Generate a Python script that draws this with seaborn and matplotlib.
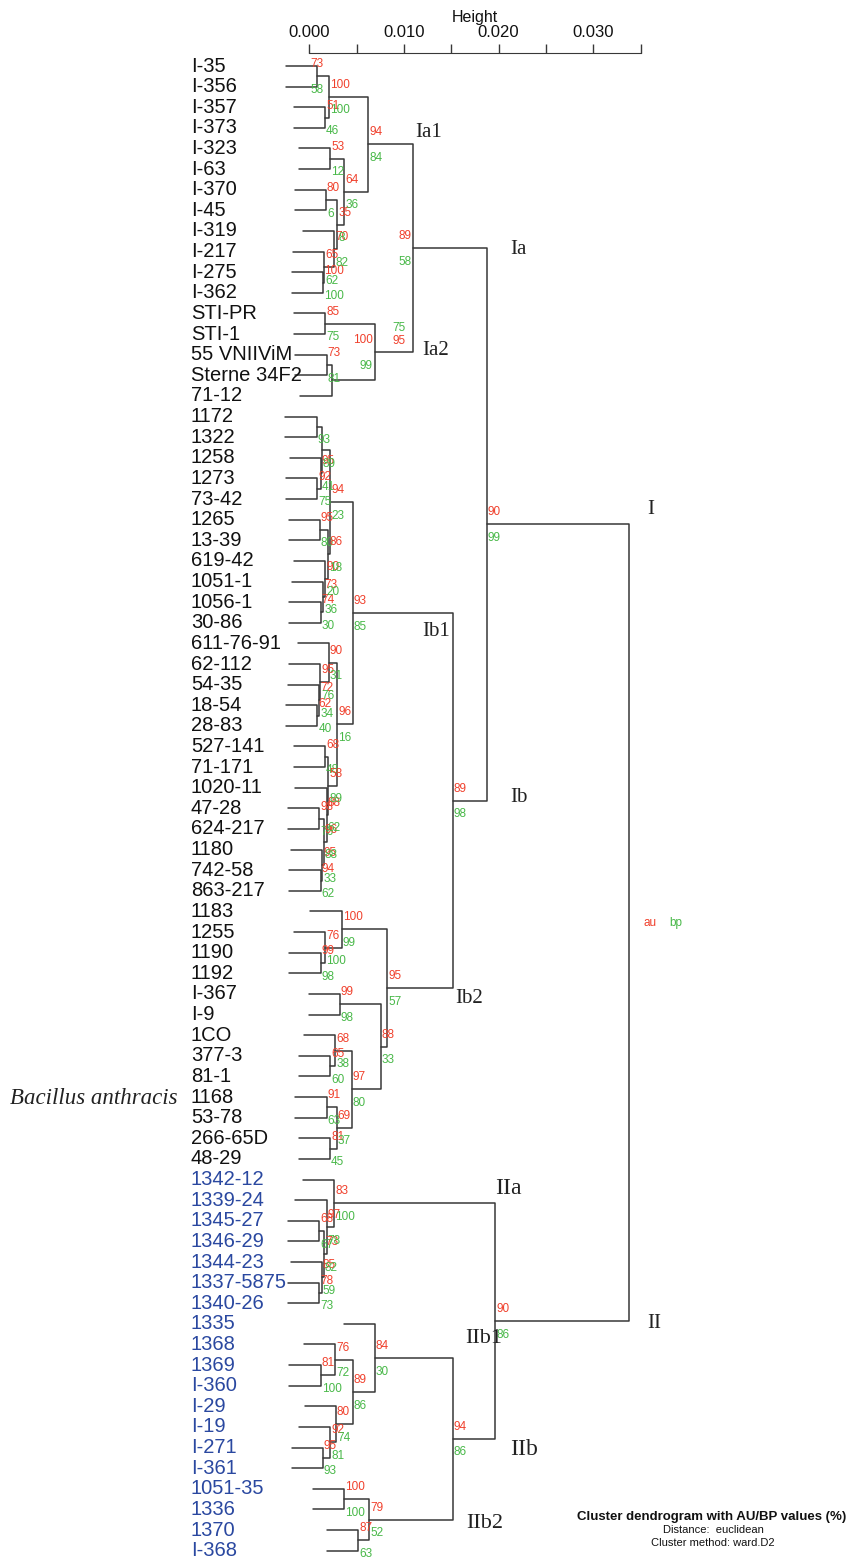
import numpy as np
import pandas as pd
import matplotlib
matplotlib.use('Agg')
import matplotlib.pyplot as plt
import seaborn as sns

# ---------------------------------------------------------------
# data: leaves (top to bottom), merges (R hclust style:
# negative = leaf number, positive = earlier merge step)
# ---------------------------------------------------------------
leaf_labels = ["I-35", "I-356", "I-357", "I-373", "I-323", "I-63", "I-370", "I-45",
               "I-319", "I-217", "I-275", "I-362", "STI-PR", "STI-1", "55 VNIIViM",
               "Sterne 34F2", "71-12", "1172", "1322", "1258", "1273", "73-42", "1265",
               "13-39", "619-42", "1051-1", "1056-1", "30-86", "611-76-91", "62-112",
               "54-35", "18-54", "28-83", "527-141", "71-171", "1020-11", "47-28",
               "624-217", "1180", "742-58", "863-217", "1183", "1255", "1190", "1192",
               "I-367", "I-9", "1CO", "377-3", "81-1", "1168", "53-78", "266-65D",
               "48-29", "1342-12", "1339-24", "1345-27", "1346-29", "1344-23",
               "1337-5875", "1340-26", "1335", "1368", "1369", "I-360", "I-29", "I-19",
               "I-271", "I-361", "1051-35", "1336", "1370", "I-368"]

merge_a = [-1, -3, 1, -5, -7, -11, -10, -9, 5, 4, 3,
           -13, -15, 13, 12, 11,
           -18, -21, -20, 17, -23, -27, -26, -25, 21, 20,
           -32, -31, -30, -29, -34, -37, -40, -39, 32, -36, 31, 30, 26,
           -44, -43, -42, -46, -49, -48, -51, -53, 46, 45, 43, 42, 39, 16,
           -57, -60, -59, 54, -56, -55,
           -64, -63, -68, -67, -66, 61, -62, -70, -72, 67, 66, 59, 53]
merge_b = [-2, -4, 2, -6, -8, -12, 6, 7, 8, 9, 10,
           -14, -16, -17, 14, 15,
           -19, -22, 18, 19, -24, -28, 22, 23, 24, 25,
           -33, 27, 28, 29, -35, -38, -41, 33, 34, 35, 36, 37, 38,
           -45, 40, 41, -47, -50, 44, -52, -54, 47, 48, 49, 50, 51, 52,
           -58, -61, 55, 56, 57, 58,
           -65, 60, -69, 62, 63, 64, 65, -71, -73, 68, 69, 70, 71]
heights = [0.00085, 0.00166, 0.00211, 0.00219, 0.00176, 0.00142, 0.00158, 0.00261,
           0.00293, 0.00367, 0.00623,
           0.00166, 0.00184, 0.00237, 0.00694, 0.01099,
           0.00078, 0.00085, 0.00122, 0.00131, 0.00113, 0.00120, 0.00148, 0.00166,
           0.00198, 0.00219,
           0.00085, 0.00106, 0.00118, 0.00208, 0.00166, 0.00106, 0.00120, 0.00139,
           0.00155, 0.00182, 0.00201, 0.00296, 0.00458,
           0.00120, 0.00166, 0.00342, 0.00324, 0.00219, 0.00272, 0.00184, 0.00219,
           0.00289, 0.00448, 0.00754, 0.00824, 0.01518, 0.01877,
           0.00106, 0.00106, 0.00134, 0.00155, 0.00184, 0.00261,
           0.00120, 0.00272, 0.00142, 0.00219, 0.00282, 0.00458, 0.00694, 0.00367,
           0.00518, 0.00634, 0.01518, 0.01962, 0.03377]
au = [73, 51, 100, 53, 80, 100, 65, 70, 35, 64, 94,
      85, 73, None, 100, 89,
      None, 92, 95, None, 95, 74, 73, 90, 86, 94,
      62, 72, 95, 90, 68, 98, 94, 95, 96, 88, 58, 96, 93,
      99, 76, 100, 99, 65, 68, 91, 81, 69, 97, 88, 95, 89, 90,
      68, 78, 85, 73, 97, 83,
      81, 76, 95, 92, 80, 89, 84, 100, 87, 79, 94, 90, None]
bp = [58, 46, 100, 12, 6, 100, 62, 82, 8, 36, 84,
      75, 81, None, 99, 58,
      93, 75, 41, 89, 80, 30, 36, 20, 18, 23,
      40, 34, 76, 31, 48, 76, 62, 33, 88, 62, 89, 16, 85,
      98, 100, 99, 98, 60, 38, 63, 45, 37, 80, 33, 57, 98, 99,
      67, 73, 59, 82, 78, 100,
      100, 72, 93, 81, 74, 86, 30, 100, 63, 52, 86, 86, None]
hang = 0.0033

# ---------------------------------------------------------------
# layout of the tree
# ---------------------------------------------------------------
n_merge = len(merge_a)
node_y = np.zeros(n_merge)


def ypos(k):
    return (-k - 1) if k < 0 else node_y[k - 1]


def hpos(k, parent_h):
    return parent_h - hang if k < 0 else heights[k - 1]


rows = []
for i in range(n_merge):
    a, b, h = merge_a[i], merge_b[i], heights[i]
    ya, yb = ypos(a), ypos(b)
    node_y[i] = (ya + yb) / 2
    xs = [hpos(a, h), h, h, hpos(b, h)]
    ys = [ya, ya, yb, yb]
    for j in range(4):
        rows.append({'seg': i, 'x': xs[j], 'y': ys[j]})
segs = pd.DataFrame(rows)


def leaves_under(k):
    if k < 0:
        return [-k - 1]
    return leaves_under(merge_a[k - 1]) + leaves_under(merge_b[k - 1])


cluster_two = set(leaves_under(71))

# ---------------------------------------------------------------
# drawing
# ---------------------------------------------------------------
sns.set_style('white')
plt.rcParams['font.family'] = ['Liberation Sans', 'DejaVu Sans']

W, H = 849, 1562
fig = plt.figure(figsize=(W / 100, H / 100), dpi=100)
x0, x1 = 309.3, 640.6   # pixel position of height 0 and 0.035
y0, y1 = 66.0, 1550.7    # pixel position of first / last leaf
ax = fig.add_axes([x0 / W, 1 - y1 / H, (x1 - x0) / W, (y1 - y0) / H])
ax.set_xlim(0, 0.035)
ax.set_ylim(len(leaf_labels) - 1, 0)
px_h = 0.035 / (x1 - x0)
px_y = (len(leaf_labels) - 1) / (y1 - y0)

line_col = '#383838'
red = '#f0402c'
green = '#48b848'
blue = '#2a48a0'

sns.lineplot(data=segs, x='x', y='y', units='seg', estimator=None, sort=False,
             color=line_col, linewidth=1.1, ax=ax, legend=False)
for ln in ax.lines:
    ln.set_clip_on(False)

# leaf labels
for i, lab in enumerate(leaf_labels):
    ax.text(-0.0125, i, lab, ha='left', va='center', fontsize=14.5,
            color=blue if i in cluster_two else '#111111', clip_on=False)

# au / bp values (a few sit to the left of / centred on their node)
label_side = {1: 'center', 15: 'right', 16: 'right'}
for i in range(n_merge):
    ha = label_side.get(i + 1, 'left')
    dx = {'left': 1, 'center': 0, 'right': -2}[ha] * px_h
    if au[i] is not None:
        ax.text(heights[i] + dx, node_y[i] - 12 * px_y, str(au[i]), color=red,
                fontsize=8.5, ha=ha, va='center', clip_on=False)
    if bp[i] is not None:
        ax.text(heights[i] + dx, node_y[i] + 13.5 * px_y, str(bp[i]), color=green,
                fontsize=8.5, ha=ha, va='center', clip_on=False)
ax.text(heights[-1] + 15 * px_h, node_y[-1], 'au', color=red, fontsize=8.5,
        ha='left', va='center', clip_on=False)
ax.text(heights[-1] + 40 * px_h, node_y[-1], 'bp', color=green, fontsize=8.5,
        ha='left', va='center', clip_on=False)
# two stray values beside Ia2
ax.text(heights[15] - 8 * px_h, node_y[14] - 24 * px_y, '75', color=green,
        fontsize=8.5, ha='right', va='center', clip_on=False)
ax.text(heights[15] - 8 * px_h, node_y[14] - 11 * px_y, '95', color=red,
        fontsize=8.5, ha='right', va='center', clip_on=False)

# clade names
clades = [('Ia1', 11, 415, -12, 15), ('Ia2', 15, 422, -2, 15), ('Ia', 16, 510, 1, 15),
          ('I', 53, 647, -15, 15), ('Ib1', 39, 422, 18, 15), ('Ib', 52, 510, -3, 15),
          ('Ib2', 51, 455, 10, 15), ('IIa', 59, 495, -15, 17), ('II', 71, 647, 2, 15),
          ('IIb1', 66, 465, -20, 16), ('IIb', 70, 510, 11, 17), ('IIb2', 69, 466, 4, 16)]
for name, step, xp, dy, fs in clades:
    ax.text((xp - x0) * px_h, node_y[step - 1] + dy * px_y, name, ha='left', va='center',
            fontsize=fs, family=['Liberation Serif', 'DejaVu Serif'], color='#222222',
            clip_on=False)

fig.text(10 / W, 1 - 1098 / H, 'Bacillus anthracis', ha='left', va='center',
         fontsize=16.5, style='italic', family=['Liberation Serif', 'DejaVu Serif'],
         color='#222222')

# height axis on top
for s in ['left', 'right', 'bottom']:
    ax.spines[s].set_visible(False)
ax.spines['top'].set_position(('outward', 13.3 * 0.72))
ax.spines['top'].set_bounds(0, 0.035)
ax.spines['top'].set_color(line_col)
ax.xaxis.tick_top()
ax.xaxis.set_label_position('top')
ax.set_xticks(np.arange(0, 0.0351, 0.005))
ax.set_xticklabels(['0.000', '', '0.010', '', '0.020', '', '0.030', ''])
ax.tick_params(axis='x', direction='out', length=6.8, width=1, color=line_col,
               labelsize=12, pad=2.5, labelcolor='#111111')
ax.set_yticks([])
ax.set_ylabel('')
ax.set_xlabel('Height', fontsize=11.5, labelpad=2, color='#111111')

fig.text(577 / W, 1 - 1517 / H, 'Cluster dendrogram with AU/BP values (%)', ha='left',
         va='center', fontsize=9.5, fontweight='bold', color='#111111')
fig.text(713 / W, 1 - 1530 / H, 'Distance:  euclidean', ha='center', va='center',
         fontsize=8, color='#111111')
fig.text(713 / W, 1 - 1543 / H, 'Cluster method: ward.D2', ha='center', va='center',
         fontsize=8, color='#111111')

fig.savefig('out.png', dpi=100)
